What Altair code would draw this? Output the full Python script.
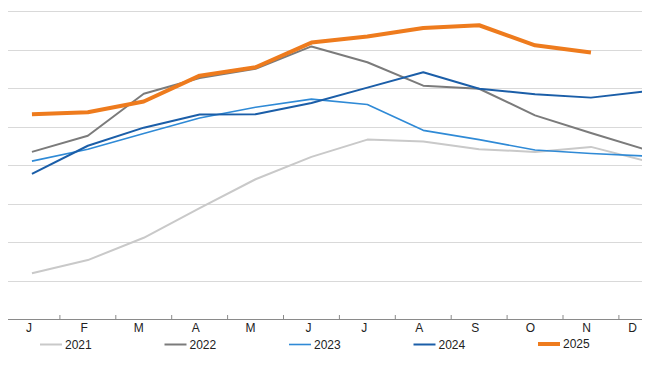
import altair as alt
import pandas as pd

month_labels = ["J", "F", "M", "A", "M", "J", "J", "A", "S", "O", "N", "D"]
years = ["2021", "2022", "2023", "2024", "2025"]

v2021 = [1.19, 1.53, 2.11, 2.88, 3.63, 4.21, 4.66, 4.61, 4.41, 4.34, 4.47, 4.10]
v2022 = [4.34, 4.76, 5.85, 6.26, 6.50, 7.08, 6.67, 6.06, 5.98, 5.29, 4.83, 4.39]
v2023 = [4.10, 4.41, 4.82, 5.22, 5.50, 5.71, 5.57, 4.90, 4.66, 4.39, 4.30, 4.23]
v2024 = [3.77, 4.50, 4.97, 5.31, 5.32, 5.61, 6.01, 6.41, 5.98, 5.84, 5.75, 5.92]
v2025 = [5.32, 5.37, 5.65, 6.32, 6.54, 7.18, 7.34, 7.56, 7.63, 7.11, 6.92]

colors = ["#c9c9c9", "#7b7b7b", "#2f8ad6", "#1b5ea8", "#ee7b1d"]
widths = [2, 2, 1.6, 2, 4]

rows = []
for yr, vals in zip(years, [v2021, v2022, v2023, v2024, v2025]):
    for i, v in enumerate(vals):
        rows.append({"m": i + 1, "year": yr, "value": v, "order": years.index(yr)})
df = pd.DataFrame(rows)
months_df = pd.DataFrame({"m": list(range(1, 13))})

label_expr = "[" + ",".join("'%s'" % s for s in month_labels) + "][datum.value-1]"

xscale = alt.Scale(type="band", domain=list(range(1, 13)), range=[-4, 666.8],
                   paddingInner=0, paddingOuter=0)

legend_kw = dict(title=None, orient="none", direction="horizontal",
                 columns=5, legendX=30, legendY=320,
                 symbolType="stroke", symbolSize=484,
                 labelOffset=1, labelFontSize=12,
                 labelFont="Liberation Sans", labelColor="#222222",
                 columnPadding=64.5, gridAlign="all")

lines = alt.Chart(df).mark_line(strokeJoin="round").encode(
    x=alt.X("m:O", scale=xscale, bandPosition=0.5,
            axis=alt.Axis(title=None, labelExpr=label_expr, labelAngle=0,
                          ticks=False, domainColor="#8a8a8a", domainWidth=1,
                          labelColor="#222222", labelFontSize=12,
                          labelFont="Liberation Sans", labelPadding=8,
                          labelOffset={"condition": {"test": "datum.value == 12", "value": -10}, "value": 0},
                          grid=False)),
    y=alt.Y("value:Q", scale=alt.Scale(domain=[0, 8], nice=False, zero=True),
            axis=alt.Axis(title=None, labels=False, ticks=False, domain=False,
                          grid=True, gridColor="#d9d9d9", values=[1, 2, 3, 4, 5, 6, 7, 8])),
    color=alt.Color("year:O", scale=alt.Scale(domain=years, range=colors),
                    legend=alt.Legend(**legend_kw)),
    strokeWidth=alt.StrokeWidth("year:O", scale=alt.Scale(type="ordinal", domain=years, range=widths),
                                legend=alt.Legend(**legend_kw)),
    order=alt.Order("order:Q"),
)

ticks = alt.Chart(months_df).mark_rule(color="#8a8a8a", strokeWidth=1).encode(
    x=alt.X("m:O", scale=xscale, bandPosition=0),
    y=alt.value(304),
    y2=alt.value(308),
)

chart = alt.layer(ticks, lines).properties(
    width=634, height=308,
    autosize=alt.AutoSizeParams(type="none"),
    padding={"top": 3, "left": 0, "right": 0, "bottom": 38},
).configure_view(stroke=None)

chart.save("out.html", embed_options={"renderer": "svg", "actions": False})
